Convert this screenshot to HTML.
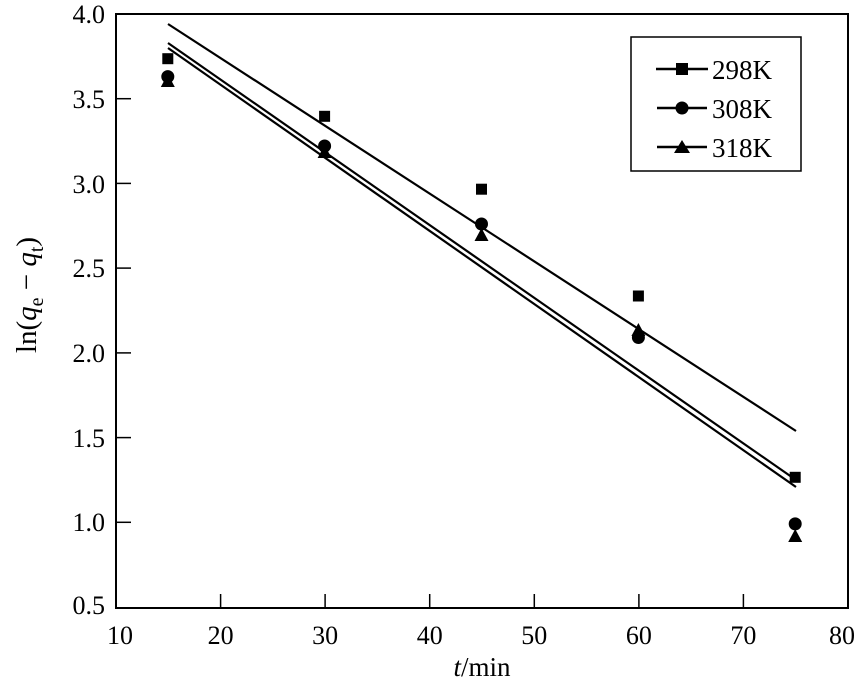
<!DOCTYPE html>
<html><head><meta charset="utf-8"><style>body{margin:0;background:#fff}svg{display:block}text{font-family:"Liberation Serif",serif;fill:#000}</style></head>
<body>
<svg width="864" height="681" viewBox="0 0 864 681" xmlns="http://www.w3.org/2000/svg">
<rect x="0" y="0" width="864" height="681" fill="#fff"/>
<rect x="116" y="14" width="732" height="594" fill="none" stroke="#000" stroke-width="2"/>
<g stroke="#000" stroke-width="1.5">
<line x1="220.6" y1="608" x2="220.6" y2="594"/><line x1="325.1" y1="608" x2="325.1" y2="594"/><line x1="429.7" y1="608" x2="429.7" y2="594"/><line x1="534.3" y1="608" x2="534.3" y2="594"/><line x1="638.9" y1="608" x2="638.9" y2="594"/><line x1="743.4" y1="608" x2="743.4" y2="594"/>
<line x1="116" y1="98.7" x2="131" y2="98.7"/><line x1="116" y1="183.4" x2="131" y2="183.4"/><line x1="116" y1="268.1" x2="131" y2="268.1"/><line x1="116" y1="352.9" x2="131" y2="352.9"/><line x1="116" y1="437.6" x2="131" y2="437.6"/><line x1="116" y1="522.3" x2="131" y2="522.3"/>
</g>
<g font-size="26" text-anchor="middle">
<text x="120" y="644">10</text><text x="220.6" y="644">20</text><text x="325.1" y="644">30</text><text x="429.7" y="644">40</text><text x="534.3" y="644">50</text><text x="638.9" y="644">60</text><text x="743.4" y="644">70</text><text x="842" y="644">80</text>
</g>
<g font-size="26" text-anchor="end">
<text x="105" y="23">4.0</text><text x="105" y="108">3.5</text><text x="105" y="193">3.0</text><text x="105" y="277">2.5</text><text x="105" y="362">2.0</text><text x="105" y="447">1.5</text><text x="105" y="531">1.0</text><text x="105" y="614">0.5</text>
</g>
<text x="482" y="676" font-size="27" text-anchor="middle"><tspan font-style="italic">t</tspan>/min</text>
<text transform="translate(36,295) rotate(-90)" font-size="29" text-anchor="middle">ln(<tspan font-style="italic">q</tspan><tspan font-size="20" dy="7">e</tspan><tspan dy="-7"> − </tspan><tspan font-style="italic">q</tspan><tspan font-size="20" dy="7">t</tspan><tspan dy="-7">)</tspan></text>
<g stroke="#000" stroke-width="2.2">
<line x1="168" y1="24" x2="796" y2="431"/>
<line x1="168" y1="43" x2="796" y2="480"/>
<line x1="168" y1="48" x2="796" y2="487"/>
</g>
<g fill="#000">
<rect x="162.3" y="53.2" width="11" height="11"/><rect x="319.1" y="110.8" width="11" height="11"/><rect x="476" y="183.7" width="11" height="11"/><rect x="632.9" y="290.5" width="11" height="11"/><rect x="789.7" y="471.8" width="11" height="11"/>
<circle cx="167.8" cy="76.6" r="6.5"/><circle cx="324.6" cy="146" r="6.5"/><circle cx="481.5" cy="224" r="6.5"/><circle cx="638.4" cy="337.5" r="6.5"/><circle cx="795.2" cy="523.9" r="6.5"/>
<polygon points="167.8,74 160.8,87 174.8,87"/><polygon points="324.6,145 317.6,158 331.6,158"/><polygon points="481.5,228 474.5,241 488.5,241"/><polygon points="638.4,323 631.4,336 645.4,336"/><polygon points="795.2,529 788.2,542 802.2,542"/>
</g>
<rect x="631" y="37" width="170" height="134" fill="#fff" stroke="#000" stroke-width="1.5"/>
<g stroke="#000" stroke-width="2.5"><line x1="656" y1="69" x2="708" y2="69"/><line x1="657" y1="108" x2="707" y2="108"/><line x1="657" y1="147" x2="707" y2="147"/></g>
<rect x="676" y="63" width="12" height="12" fill="#000"/>
<circle cx="682" cy="108" r="6.5" fill="#000"/>
<polygon points="682,140 674,153 690,153" fill="#000"/>
<g font-size="27"><text x="712" y="79">298K</text><text x="712" y="118">308K</text><text x="712" y="157">318K</text></g>
</svg>
</body></html>
